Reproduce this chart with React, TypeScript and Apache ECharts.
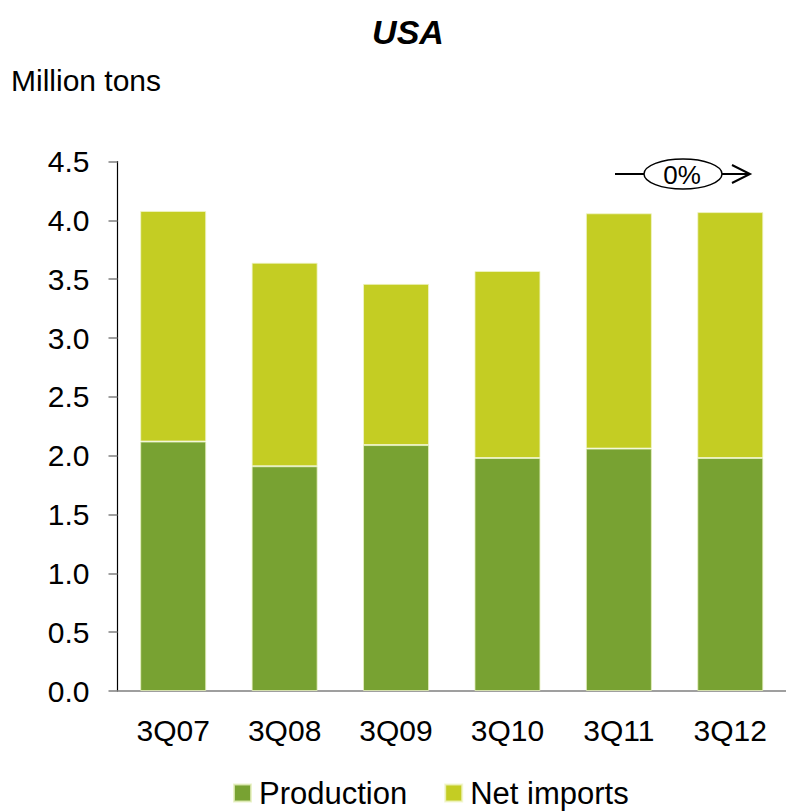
import React, { useEffect, useRef } from "react";
import * as echarts from "echarts";

const categories = ["3Q07", "3Q08", "3Q09", "3Q10", "3Q11", "3Q12"];
const production = [2.12, 1.91, 2.09, 1.98, 2.06, 1.98];
const netImports = [1.96, 1.73, 1.37, 1.59, 2.0, 2.09];
const seriesNames = ["Production", "Net imports"];
const colors = ["#78A232", "#C4CD23"];
const title = "USA";
const unitLabel = "Million tons";
const changeLabel = "0%";

const FONT = "'Liberation Sans', Arial, Helvetica, sans-serif";

export default function App() {
  const ref = useRef<HTMLDivElement>(null);
  useEffect(() => {
    if (!ref.current) return;
    const chart = echarts.init(ref.current, null, { renderer: "svg" });
    chart.setOption({
      animation: false,
      backgroundColor: "#ffffff",
      textStyle: { fontFamily: FONT },
      grid: { left: 117.5, top: 161.5, width: 672, height: 529.5, containLabel: false },
      legend: {
        top: 777,
        left: 233,
        itemWidth: 17,
        itemHeight: 17,
        itemGap: 37,
        icon: "rect",
        padding: 0,
        data: seriesNames,
        textStyle: {
          fontSize: 31,
          lineHeight: 32,
          color: "#000",
          fontFamily: FONT,
          padding: [0, 0, 0, 3],
        },
      },
      xAxis: {
        type: "category",
        data: categories,
        axisLine: { show: true, lineStyle: { color: "#7f7f7f", width: 1.5 } },
        axisTick: { show: false },
        axisLabel: { fontSize: 30, color: "#000", margin: 24, fontFamily: FONT },
      },
      yAxis: {
        type: "value",
        min: 0,
        max: 4.5,
        interval: 0.5,
        axisLine: { show: true, lineStyle: { color: "#000", width: 1.2 } },
        axisTick: { show: true, length: 9, lineStyle: { color: "#7f7f7f", width: 1.5 } },
        splitLine: { show: false },
        axisLabel: {
          fontSize: 30,
          color: "#000",
          margin: 28,
          fontFamily: FONT,
          formatter: (v: number) => v.toFixed(1),
        },
      },
      series: [
        {
          name: seriesNames[0],
          type: "bar",
          stack: "total",
          data: production,
          barWidth: 66,
          itemStyle: { color: colors[0], borderColor: "rgba(230,240,190,0.8)", borderWidth: 1 },
        },
        {
          name: seriesNames[1],
          type: "bar",
          stack: "total",
          data: netImports,
          barWidth: 66,
          itemStyle: { color: colors[1], borderColor: "rgba(240,245,200,0.8)", borderWidth: 1 },
        },
      ],
      graphic: [
        {
          type: "text",
          x: 408,
          y: 32,
          style: {
            text: title,
            fontSize: 34,
            fontWeight: "bold",
            fontStyle: "italic",
            fontFamily: FONT,
            fill: "#000",
            align: "center",
            verticalAlign: "middle",
          },
        },
        {
          type: "text",
          x: 11,
          y: 80,
          style: {
            text: unitLabel,
            fontSize: 30,
            fontFamily: FONT,
            fill: "#000",
            align: "left",
            verticalAlign: "middle",
          },
        },
        {
          type: "line",
          shape: { x1: 615, y1: 174, x2: 644, y2: 174 },
          style: { stroke: "#000", lineWidth: 2 },
        },
        {
          type: "ellipse",
          shape: { cx: 683, cy: 174, rx: 39, ry: 15 },
          style: { fill: "#fff", stroke: "#000", lineWidth: 1.5 },
        },
        {
          type: "line",
          shape: { x1: 722, y1: 174, x2: 750, y2: 174 },
          style: { stroke: "#000", lineWidth: 2 },
        },
        {
          type: "polyline",
          shape: { points: [[732, 165], [750, 174], [732, 183]] },
          style: { stroke: "#000", lineWidth: 2, fill: "none" },
        },
        {
          type: "text",
          x: 682,
          y: 175,
          style: {
            text: changeLabel,
            fontSize: 26,
            fontFamily: FONT,
            fill: "#000",
            align: "center",
            verticalAlign: "middle",
          },
        },
      ],
    });
    return () => chart.dispose();
  }, []);
  return (
    <div
      ref={ref}
      style={{ position: "fixed", left: 0, top: 0, width: 786, height: 811, background: "#fff" }}
    />
  );
}
